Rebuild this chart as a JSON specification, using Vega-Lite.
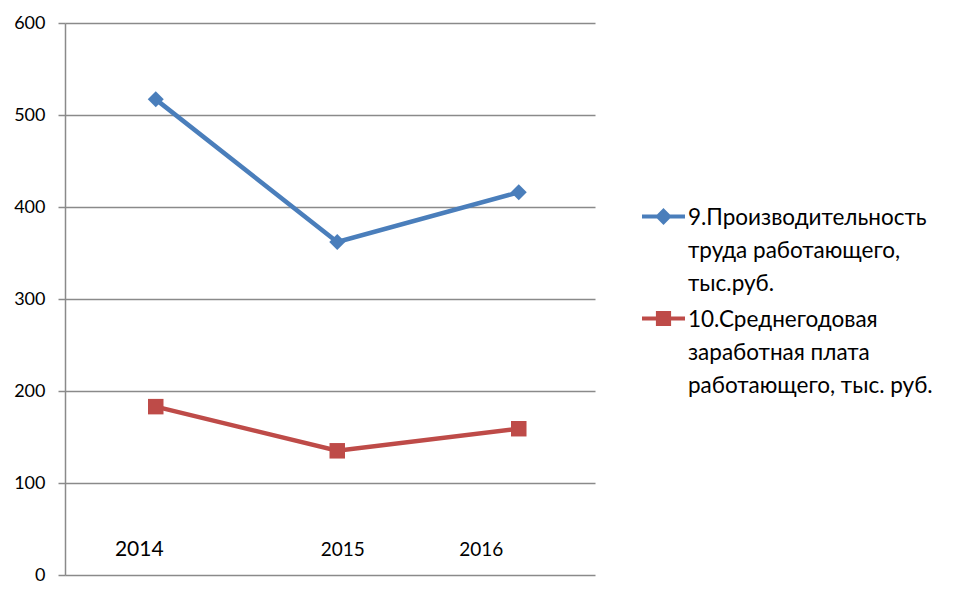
{
  "$schema": "https://vega.github.io/schema/vega-lite/v6.json",
  "width": 530,
  "height": 552,
  "autosize": "none",
  "padding": {"left": 65, "top": 23, "right": 368, "bottom": 37},
  "background": "white",
  "config": {"font": "Lato", "view": {"stroke": null}},
  "data": {
    "values": [
      {"year": 2014, "series": "9.Производительность труда работающего, тыс.руб.", "value": 517},
      {"year": 2015, "series": "9.Производительность труда работающего, тыс.руб.", "value": 362},
      {"year": 2016, "series": "9.Производительность труда работающего, тыс.руб.", "value": 416},
      {"year": 2014, "series": "10.Среднегодовая заработная плата работающего, тыс. руб.", "value": 183},
      {"year": 2015, "series": "10.Среднегодовая заработная плата работающего, тыс. руб.", "value": 135},
      {"year": 2016, "series": "10.Среднегодовая заработная плата работающего, тыс. руб.", "value": 159}
    ]
  },
  "encoding": {
    "x": {
      "field": "year",
      "type": "quantitative",
      "scale": {"domain": [2013.5, 2016.42], "nice": false, "zero": false},
      "axis": {
        "title": null,
        "values": [2014, 2015, 2016],
        "format": "d",
        "grid": false,
        "domain": false,
        "ticks": false,
        "offset": -26,
        "labelPadding": 0,
        "labelBaseline": "middle",
        "labelColor": "black",
        "labelFont": "Lato",
        "labelFontSize": {"condition": {"test": "datum.value == 2014", "value": 21}, "value": 19},
        "labelOffset": {"condition": [{"test": "datum.value == 2014", "value": -17}, {"test": "datum.value == 2016", "value": -38}], "value": 5}
      }
    },
    "y": {
      "field": "value",
      "type": "quantitative",
      "scale": {"domain": [0, 600], "nice": false},
      "axis": {
        "title": null,
        "values": [0, 100, 200, 300, 400, 500, 600],
        "grid": true,
        "gridColor": "#8a8a8a",
        "gridWidth": 1.5,
        "domainColor": "#8a8a8a",
        "domainWidth": 1.5,
        "tickColor": "#8a8a8a",
        "tickWidth": 1.5,
        "tickSize": 7,
        "labelPadding": 13,
        "labelColor": "black",
        "labelFont": "Lato",
        "labelFontSize": 18
      }
    }
  },
  "layer": [
    {
      "mark": {"type": "line", "strokeWidth": 4.5},
      "encoding": {
        "color": {
          "field": "series",
          "type": "nominal",
          "scale": {
            "domain": ["9.Производительность труда работающего, тыс.руб.", "10.Среднегодовая заработная плата работающего, тыс. руб."],
            "range": ["#4A7EBB", "#BE4B48"]
          },
          "legend": {
            "title": null,
            "orient": "none",
            "legendX": 575,
            "legendY": 170,
            "labelFont": "Lato",
            "labelFontSize": 22.5,
            "labelColor": "black",
            "labelLimit": 0,
            "labelOffset": 1,
            "rowPadding": -3,
            "symbolSize": 1849,
            "symbolStrokeWidth": 4,
            "labelBaseline": "top",
            "labelExpr": "indexof(datum.value, '9.') == 0 ? ['9.Производительность', 'труда работающего,', 'тыс.руб.'] : ['10.Среднегодовая', 'заработная плата', 'работающего, тыс. руб.']",
            "encode": {
              "symbols": {
                "update": {
                  "shape": {"signal": "indexof(datum.value, '9.') == 0 ? 'M-1,0L1,0M0,-0.26L0.26,0L0,0.26L-0.26,0Z' : 'M-1,0L1,0M-0.26,-0.26L0.26,-0.26L0.26,0.26L-0.26,0.26Z'"},
                  "fill": {"signal": "indexof(datum.value, '9.') == 0 ? '#4A7EBB' : '#BE4B48'"},
                  "stroke": {"signal": "indexof(datum.value, '9.') == 0 ? '#4A7EBB' : '#BE4B48'"},
                  "opacity": {"value": 1}
                }
              },
              "labels": {"update": {"lineHeight": {"value": 33}, "dy": {"value": -10}}}
            }
          }
        }
      }
    },
    {
      "transform": [{"filter": "indexof(datum.series, '9.') == 0"}],
      "mark": {"type": "point", "shape": "diamond", "filled": true, "size": 256, "opacity": 1, "color": "#4A7EBB"},
      "encoding": {}
    },
    {
      "transform": [{"filter": "indexof(datum.series, '10.') == 0"}],
      "mark": {"type": "point", "shape": "square", "filled": true, "size": 240, "opacity": 1, "color": "#BE4B48"},
      "encoding": {}
    }
  ]
}
